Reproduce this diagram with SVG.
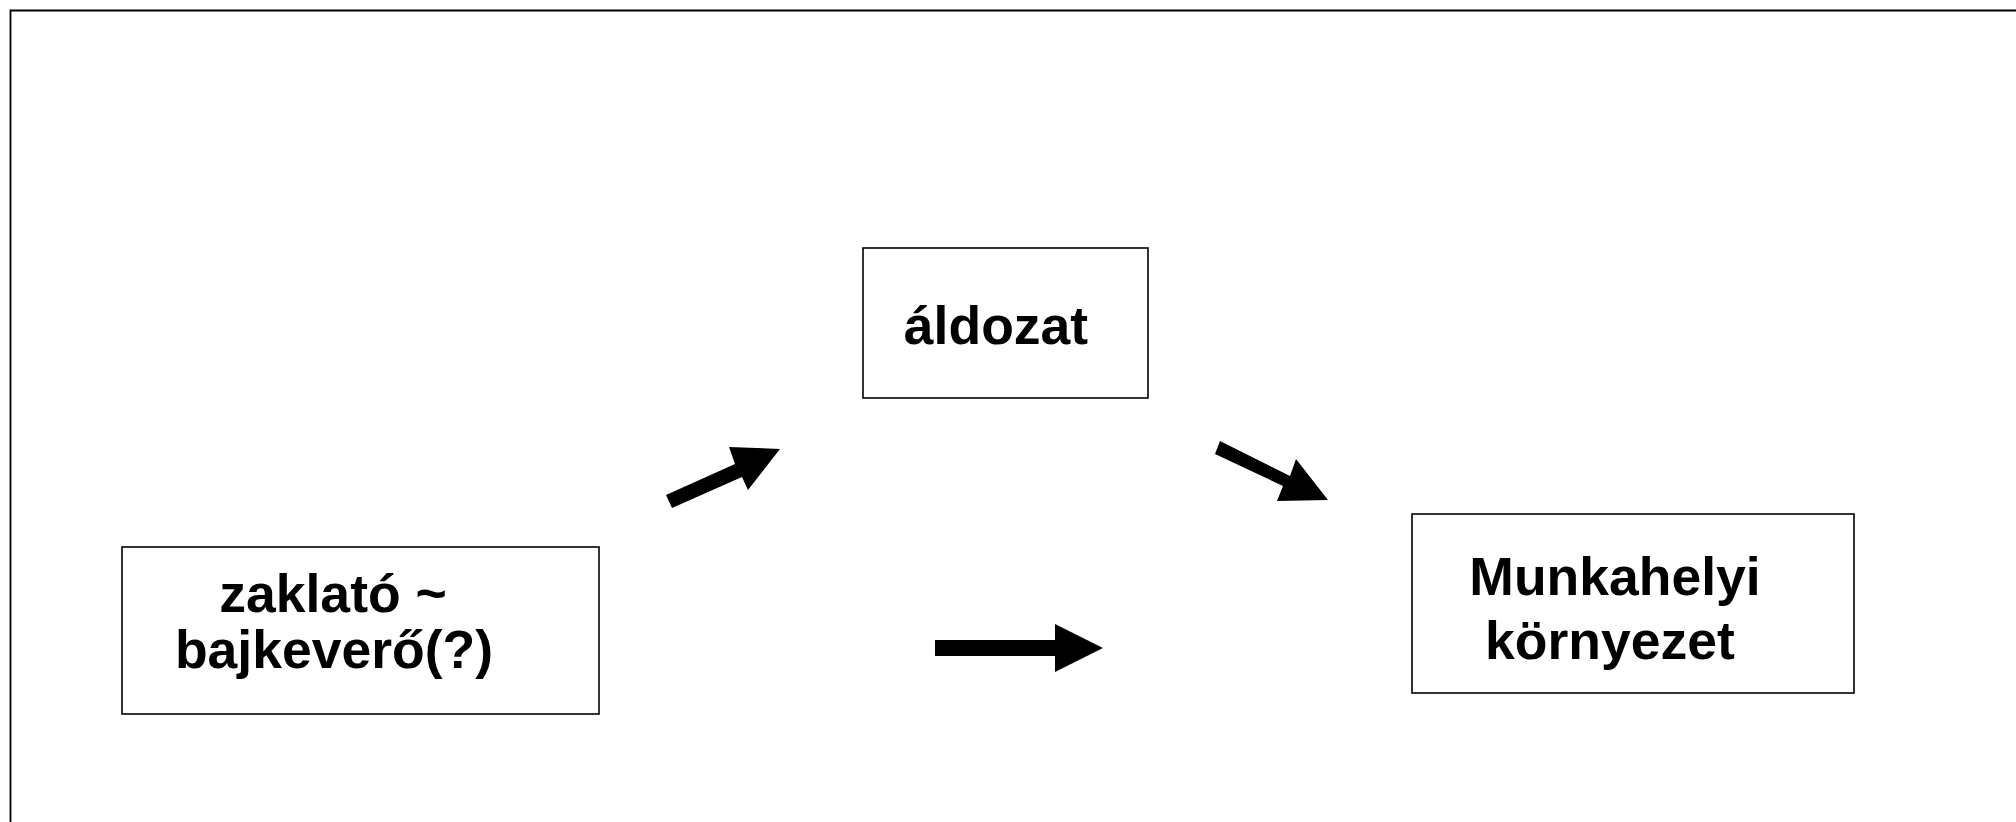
<svg xmlns="http://www.w3.org/2000/svg" width="2016" height="822" viewBox="0 0 2016 822">
<style>
.box{fill:#fff;stroke:#000;stroke-width:1.6}
.lbl{font-family:"Liberation Sans",Arial,sans-serif;font-weight:bold;font-size:53.5px;fill:#000;text-anchor:middle}
.arr{fill:#000;stroke:none}
</style>
<rect x="0" y="0" width="2016" height="822" fill="#fff"/>
<path d="M10.5,830 V10.5 H2030" fill="none" stroke="#000" stroke-width="1.8"/>
<g id="node-zaklato">
<rect class="box" x="122" y="547" width="477" height="167"/>
<text class="lbl" x="333" y="612">zaklató ~</text>
<text class="lbl" x="334" y="668">bajkeverő(?)</text>
</g>
<g id="node-aldozat">
<rect class="box" x="863" y="248" width="285" height="150"/>
<text class="lbl" x="996" y="344">áldozat</text>
</g>
<g id="node-munkahelyi">
<rect class="box" x="1412" y="514" width="442" height="179"/>
<text class="lbl" x="1615" y="595">Munkahelyi</text>
<text class="lbl" x="1610" y="659">környezet</text>
</g>
<g id="connectors">
<polygon class="arr" points="666,495 735,464 729,447 780,449 748,490 742,477 672,508"/>
<polygon class="arr" points="1220,441 1290,476 1296,459 1328,500 1277,501 1283,486 1215,454"/>
<polygon class="arr" points="935,640 1055,640 1055,624 1103,648 1055,672 1055,656 935,656"/>
</g>
</svg>
